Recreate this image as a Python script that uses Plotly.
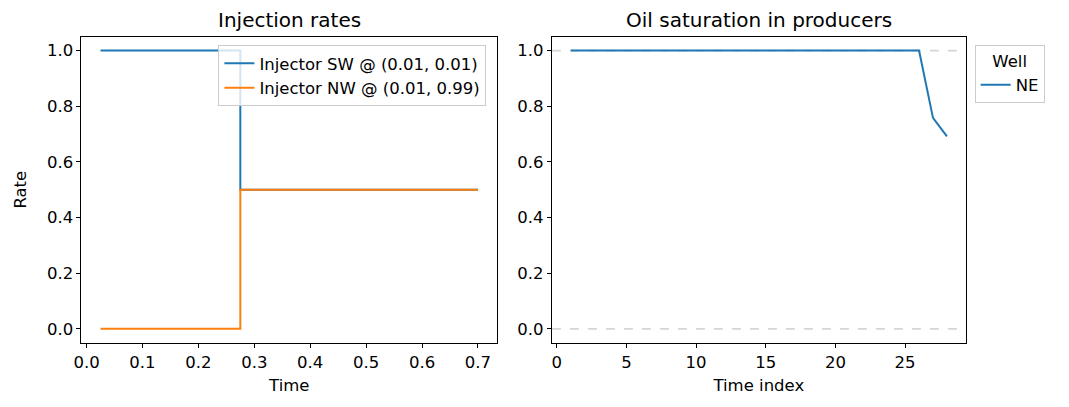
import plotly.graph_objects as go

# injection schedule
times = [0.025, 0.05, 0.075, 0.1, 0.125, 0.15, 0.175, 0.2, 0.225, 0.25,
         0.275, 0.3, 0.325, 0.35, 0.375, 0.4, 0.425, 0.45, 0.475, 0.5,
         0.525, 0.55, 0.575, 0.6, 0.625, 0.65, 0.675, 0.7]
rate_sw = [1.0, 1.0, 1.0, 1.0, 1.0, 1.0, 1.0, 1.0, 1.0, 1.0,
           0.5, 0.5, 0.5, 0.5, 0.5, 0.5, 0.5, 0.5, 0.5, 0.5,
           0.5, 0.5, 0.5, 0.5, 0.5, 0.5, 0.5, 0.5]
rate_nw = [0.0, 0.0, 0.0, 0.0, 0.0, 0.0, 0.0, 0.0, 0.0, 0.0,
           0.5, 0.5, 0.5, 0.5, 0.5, 0.5, 0.5, 0.5, 0.5, 0.5,
           0.5, 0.5, 0.5, 0.5, 0.5, 0.5, 0.5, 0.5]

# producer oil saturation
time_index = [1, 2, 3, 4, 5, 6, 7, 8, 9, 10, 11, 12, 13, 14,
              15, 16, 17, 18, 19, 20, 21, 22, 23, 24, 25, 26, 27, 28]
so_ne = [1.0, 1.0, 1.0, 1.0, 1.0, 1.0, 1.0, 1.0, 1.0, 1.0, 1.0, 1.0, 1.0, 1.0,
         1.0, 1.0, 1.0, 1.0, 1.0, 1.0, 1.0, 1.0, 1.0, 1.0, 1.0, 1.0, 0.758, 0.692]

# page body has an 8px margin, so work in reference pixels minus 8
OFF = 8
W, H = 1069 - 2 * OFF, 407 - 2 * OFF
fnt = "DejaVu Sans"
tick_sz = 16.5


def px(v):
    return (v - OFF) / W


def py(v):
    return 1 - (v - OFF) / H


fig = go.Figure()
fig.add_trace(go.Scatter(x=times, y=rate_sw, mode="lines", line_shape="hv",
                         line=dict(color="#1f77b4", width=2),
                         name="Injector SW @ (0.01, 0.01)", xaxis="x", yaxis="y", legend="legend"))
fig.add_trace(go.Scatter(x=times, y=rate_nw, mode="lines", line_shape="hv",
                         line=dict(color="#ff7f0e", width=2),
                         name="Injector NW @ (0.01, 0.99)", xaxis="x", yaxis="y", legend="legend"))
fig.add_trace(go.Scatter(x=time_index, y=so_ne, mode="lines",
                         line=dict(color="#1f77b4", width=2),
                         name="NE", xaxis="x2", yaxis="y2", legend="legend2"))

# reference lines at 0 and 1
for yv in [0, 1]:
    fig.add_shape(type="line", xref="x2 domain", yref="y2", x0=0, x1=1, y0=yv, y1=yv,
                  line=dict(color="#d6d6d6", width=1.8, dash="dash"), layer="below")

ydom = [py(342.7), py(36.7)]
ax = dict(showline=True, linecolor="black", linewidth=1, mirror=True, ticks="outside",
          ticklen=4, tickcolor="black", showgrid=False, zeroline=False,
          tickfont=dict(family=fnt, size=tick_sz, color="black"))

fig.update_layout(
    width=W, height=H, plot_bgcolor="white", paper_bgcolor="white",
    margin=dict(l=0, r=0, t=0, b=0),
    font=dict(family=fnt, size=tick_sz, color="black"),
    xaxis=dict(ax, domain=[px(74), px(492.7)], range=[-0.009, 0.734], dtick=0.1, tick0=0,
               tickformat=".1f", title=dict(text="Time", font=dict(size=tick_sz), standoff=8)),
    yaxis=dict(ax, domain=ydom, range=[-0.05, 1.05], dtick=0.2, tick0=0, tickformat=".1f",
               title=dict(text="Rate", font=dict(size=tick_sz), standoff=16)),
    xaxis2=dict(ax, domain=[px(548), px(965)], range=[-0.35, 29.35], dtick=5, tick0=0,
                anchor="y2", title=dict(text="Time index", font=dict(size=tick_sz), standoff=8)),
    yaxis2=dict(ax, domain=ydom, range=[-0.05, 1.05], dtick=0.2, tick0=0, tickformat=".1f",
                anchor="x2"),
    legend=dict(x=px(482), y=py(45), xanchor="right", yanchor="top",
                bgcolor="rgba(255,255,255,0.8)", bordercolor="#cccccc", borderwidth=1,
                font=dict(family=fnt, size=tick_sz), tracegroupgap=0),
    legend2=dict(x=px(974), y=py(45), xanchor="left", yanchor="top",
                 bgcolor="rgba(255,255,255,0.8)", bordercolor="#cccccc", borderwidth=1,
                 font=dict(family=fnt, size=tick_sz),
                 title=dict(text="Well", side="top center", font=dict(size=tick_sz))),
    annotations=[
        dict(text="Injection rates", x=px((74 + 492.7) / 2), y=py(20), xref="paper", yref="paper",
             showarrow=False, font=dict(family=fnt, size=20), xanchor="center", yanchor="middle"),
        dict(text="Oil saturation in producers", x=px((548 + 965) / 2), y=py(20), xref="paper",
             yref="paper", showarrow=False, font=dict(family=fnt, size=20),
             xanchor="center", yanchor="middle"),
    ],
)

fig.write_html("out.html")
